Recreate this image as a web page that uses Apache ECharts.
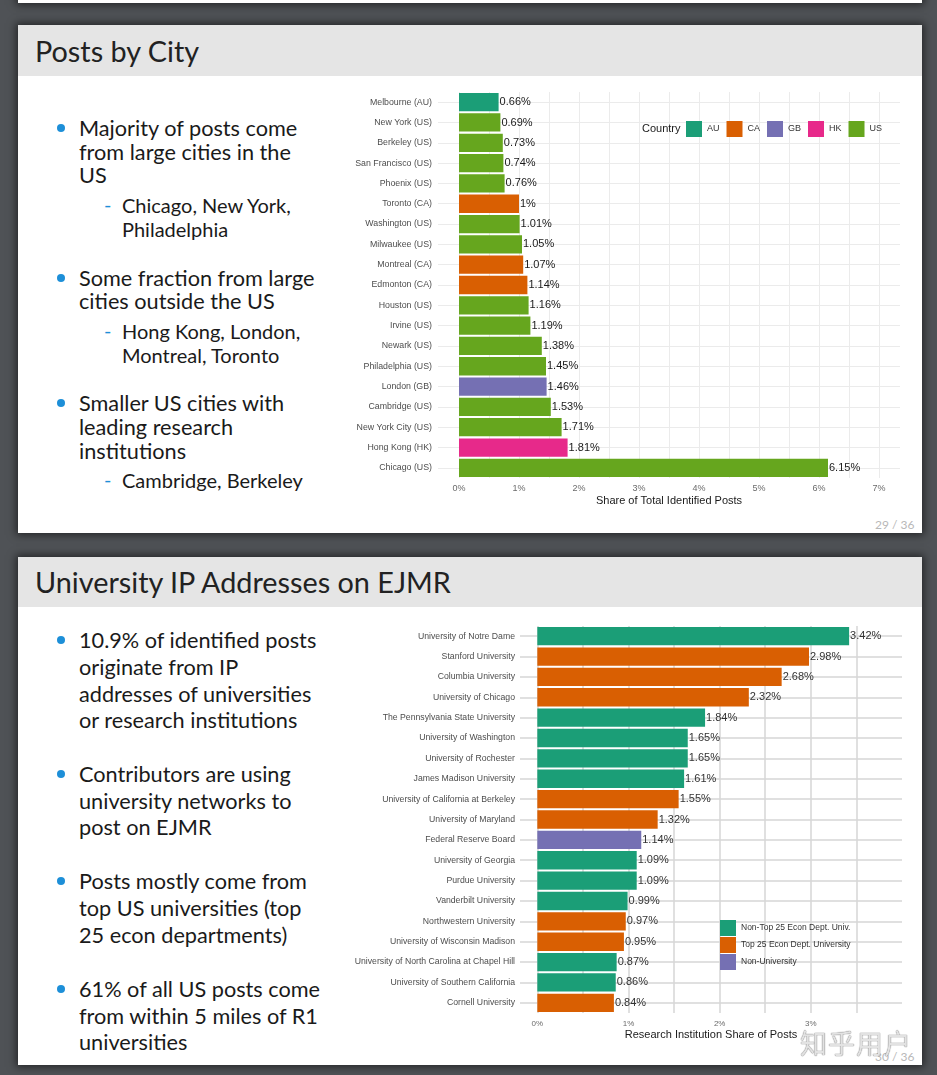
<!DOCTYPE html>
<html><head><meta charset="utf-8">
<script src="https://cdn.jsdelivr.net/npm/echarts@6/dist/echarts.min.js"></script>
<style>
html,body{margin:0;padding:0;width:937px;height:1075px;overflow:hidden;background:#4f5256;}
.slide{position:absolute;left:18px;width:904px;background:#fff;box-shadow:0 0 8px 2px rgba(0,0,0,0.55);}
.hdr{position:absolute;left:0;top:0;width:904px;background:#e5e5e5;}
.t{position:absolute;font-family:Lato,'Noto Sans',sans-serif;white-space:nowrap;color:#1a1a1a;}
.dot{position:absolute;width:8px;height:8px;border-radius:50%;background:#1d8fd8;}
.dash{position:absolute;font-family:Lato,sans-serif;color:#1d8fd8;font-size:20px;line-height:20px;}
.pg{position:absolute;font-family:Lato,sans-serif;font-size:12px;color:#b8b8b8;line-height:12px;}
#chart{position:absolute;left:0;top:0;width:937px;height:1075px;}
</style></head><body>
<div class="slide" style="top:-100px;height:103px;"></div>
<div class="slide" style="top:25px;height:508px;"><div class="hdr" style="height:51px;"></div></div>
<div class="slide" style="top:557px;height:508px;"><div class="hdr" style="height:50px;"></div></div>
<div id="txt"></div>
<div class="pg" style="left:875px;top:519px;">29 / 36</div>
<div class="pg" style="left:875px;top:1051px;">30 / 36</div>
<div id="chart"></div>
<div class="t" style="left:800px;top:1027px;font-family:'Noto Sans CJK SC';font-size:27px;line-height:32px;color:rgba(238,238,238,0.9);text-shadow:0 0 1px #777,0 0 1px #777;letter-spacing:1px;">知乎用户</div>
<script>
// ---------- data ----------
const cities = ['Melbourne (AU)','New York (US)','Berkeley (US)','San Francisco (US)','Phoenix (US)','Toronto (CA)','Washington (US)','Milwaukee (US)','Montreal (CA)','Edmonton (CA)','Houston (US)','Irvine (US)','Newark (US)','Philadelphia (US)','London (GB)','Cambridge (US)','New York City (US)','Hong Kong (HK)','Chicago (US)'];
const cityShare = [0.66,0.69,0.73,0.74,0.76,1.00,1.01,1.05,1.07,1.14,1.16,1.19,1.38,1.45,1.46,1.53,1.71,1.81,6.15];
const cityCountry = ['AU','US','US','US','US','CA','US','US','CA','CA','US','US','US','US','GB','US','US','HK','US'];
const countries = ['AU','CA','GB','HK','US'];
const countryColors = ['#1B9E77','#D95F02','#7570B3','#E7298A','#66A61E'];
const cityTicks = [0,1,2,3,4,5,6,7];
const cityGrid = [0,0.5,1,1.5,2,2.5,3,3.5,4,4.5,5,5.5,6,6.5,7];

const institutions = ['University of Notre Dame','Stanford University','Columbia University','University of Chicago','The Pennsylvania State University','University of Washington','University of Rochester','James Madison University','University of California at Berkeley','University of Maryland','Federal Reserve Board','University of Georgia','Purdue University','Vanderbilt University','Northwestern University','University of Wisconsin Madison','University of North Carolina at Chapel Hill','University of Southern California','Cornell University'];
const instShare = [3.42,2.98,2.68,2.32,1.84,1.65,1.65,1.61,1.55,1.32,1.14,1.09,1.09,0.99,0.97,0.95,0.87,0.86,0.84];
const instType = ['Non-Top 25 Econ Dept. Univ.','Top 25 Econ Dept. University','Top 25 Econ Dept. University','Top 25 Econ Dept. University','Non-Top 25 Econ Dept. Univ.','Non-Top 25 Econ Dept. Univ.','Non-Top 25 Econ Dept. Univ.','Non-Top 25 Econ Dept. Univ.','Top 25 Econ Dept. University','Top 25 Econ Dept. University','Non-University','Non-Top 25 Econ Dept. Univ.','Non-Top 25 Econ Dept. Univ.','Non-Top 25 Econ Dept. Univ.','Top 25 Econ Dept. University','Top 25 Econ Dept. University','Non-Top 25 Econ Dept. Univ.','Non-Top 25 Econ Dept. Univ.','Top 25 Econ Dept. University'];
const instTypes = ['Non-Top 25 Econ Dept. Univ.','Top 25 Econ Dept. University','Non-University'];
const instColors = ['#1B9E77','#D95F02','#7570B3'];
const instTicks = [0,1,2,3];
const instGrid = [0,0.5,1,1.5,2,2.5,3,3.5];

// ---------- slide text ----------
const titles = [[35,52,'Posts by City'],[35,583,'University IP Addresses on EJMR']];
const mainLines = [
 [129,'Majority of posts come'],[153,'from large cities in the'],[176,'US'],
 [279,'Some fraction from large'],[302,'cities outside the US'],
 [404,'Smaller US cities with'],[428,'leading research'],[452,'institutions'],
 [641,'10.9% of identified posts'],[668,'originate from IP'],[695,'addresses of universities'],[721,'or research institutions'],
 [775,'Contributors are using'],[802,'university networks to'],[828,'post on EJMR'],
 [882,'Posts mostly come from'],[909,'top US universities (top'],[936,'25 econ departments)'],
 [990,'61% of all US posts come'],[1017,'from within 5 miles of R1'],[1043,'universities']];
const subLines = [[205,'Chicago, New York,'],[229,'Philadelphia'],[331,'Hong Kong, London,'],[355,'Montreal, Toronto'],[480,'Cambridge, Berkeley']];
const dots = [129,279,404,641,775,882,990];
const dashes = [205,331,480];
const T = document.getElementById('txt');
function add(html){T.insertAdjacentHTML('beforeend',html);}
titles.forEach(([x,y,s])=>add(`<div class="t" style="left:${x}px;top:${y-15.2}px;font-size:28.8px;line-height:28.8px;color:#222;">${s}</div>`));
mainLines.forEach(([y,s])=>add(`<div class="t" style="left:79px;top:${y-11.4}px;font-size:21.7px;line-height:21.7px;">${s}</div>`));
subLines.forEach(([y,s])=>add(`<div class="t" style="left:122px;top:${y-10.5}px;font-size:20px;line-height:20px;">${s}</div>`));
dots.forEach(y=>add(`<div class="dot" style="left:57px;top:${y-5}px;"></div>`));
dashes.forEach(y=>add(`<div class="dash" style="left:104px;top:${y-11}px;">-</div>`));

// ---------- chart ----------
const chart = echarts.init(document.getElementById('chart'), null, {renderer:'canvas'});
const FONT = 'Liberation Sans';
const pct = v => v + '%';
const series = [];
countries.forEach((c,k)=>{
  series.push({type:'bar', name:c, xAxisIndex:0, yAxisIndex:0, barGap:'-100%', barCategoryGap:'10%',
    itemStyle:{color:countryColors[k]},
    label:{show:true, position:'right', distance:1, formatter:p=>pct(p.value), fontSize:11, color:'#1a1a1a', fontFamily:FONT},
    data: cityShare.map((v,i)=> cityCountry[i]===c ? v : '-')});
});
instTypes.forEach((c,k)=>{
  series.push({type:'bar', name:c, xAxisIndex:1, yAxisIndex:1, barGap:'-100%', barCategoryGap:'10%',
    itemStyle:{color:instColors[k]},
    label:{show:true, position:'right', distance:1, formatter:p=>pct(p.value), fontSize:11, color:'#333', fontFamily:FONT},
    data: instShare.map((v,i)=> instType[i]===c ? v : '-')});
});
const option = {
  animation:false,
  textStyle:{fontFamily:FONT},
  title:[{text:'Country', left:642, top:123, padding:0, textStyle:{fontSize:11, fontWeight:'normal', color:'#1a1a1a', fontFamily:FONT}}],
  legend:[
    {data:countries, left:686, top:121, orient:'horizontal', itemWidth:16, itemHeight:16, itemGap:7, padding:0, icon:'rect', selectedMode:false, textStyle:{fontSize:9, color:'#333', fontFamily:FONT}},
    {data:instTypes, left:720, top:920, orient:'vertical', itemWidth:16, itemHeight:16, itemGap:1, padding:0, icon:'rect', selectedMode:false, textStyle:{fontSize:8.5, color:'#333', fontFamily:FONT}}
  ],
  grid:[{left:438, top:92, width:462, height:386}, {left:520, top:626, width:382, height:387}],
  xAxis:[
    {gridIndex:0, type:'value', min:-0.35, max:7.35,
     axisLine:{show:false}, axisTick:{show:false, customValues:cityGrid},
     axisLabel:{customValues:cityTicks, formatter:pct, fontSize:9, color:'#6b6b6b', margin:6},
     splitLine:{show:true, lineStyle:{color:'#ebebeb', width:1}},
     name:'Share of Total Identified Posts', nameLocation:'middle', nameGap:17, nameTextStyle:{fontSize:11, color:'#1a1a1a'}},
    {gridIndex:1, type:'value', min:-0.19, max:4.0,
     axisLine:{show:false}, axisTick:{show:false, customValues:instGrid},
     axisLabel:{customValues:instTicks, formatter:pct, fontSize:8, color:'#6b6b6b', margin:7},
     splitLine:{show:true, lineStyle:{color:'#d6d6d6', width:1.5}},
     name:'Research Institution Share of Posts', nameLocation:'middle', nameGap:16, nameTextStyle:{fontSize:11, color:'#1a1a1a'}}
  ],
  yAxis:[
    {gridIndex:0, type:'category', data:cities, inverse:true,
     axisLine:{show:false, onZero:false},
     axisTick:{show:true, alignWithLabel:true, inside:true, length:462, lineStyle:{color:'#ebebeb', width:1}},
     axisLabel:{fontSize:8.8, color:'#4d4d4d', margin:6}, splitLine:{show:false}},
    {gridIndex:1, type:'category', data:institutions, inverse:true,
     axisLine:{show:false, onZero:false},
     axisTick:{show:true, alignWithLabel:true, inside:true, length:382, lineStyle:{color:'#d6d6d6', width:1.5}},
     axisLabel:{fontSize:8.7, color:'#4d4d4d', margin:5}, splitLine:{show:false}}
  ],
  series:series
};
chart.setOption(option);
</script>
</body></html>
